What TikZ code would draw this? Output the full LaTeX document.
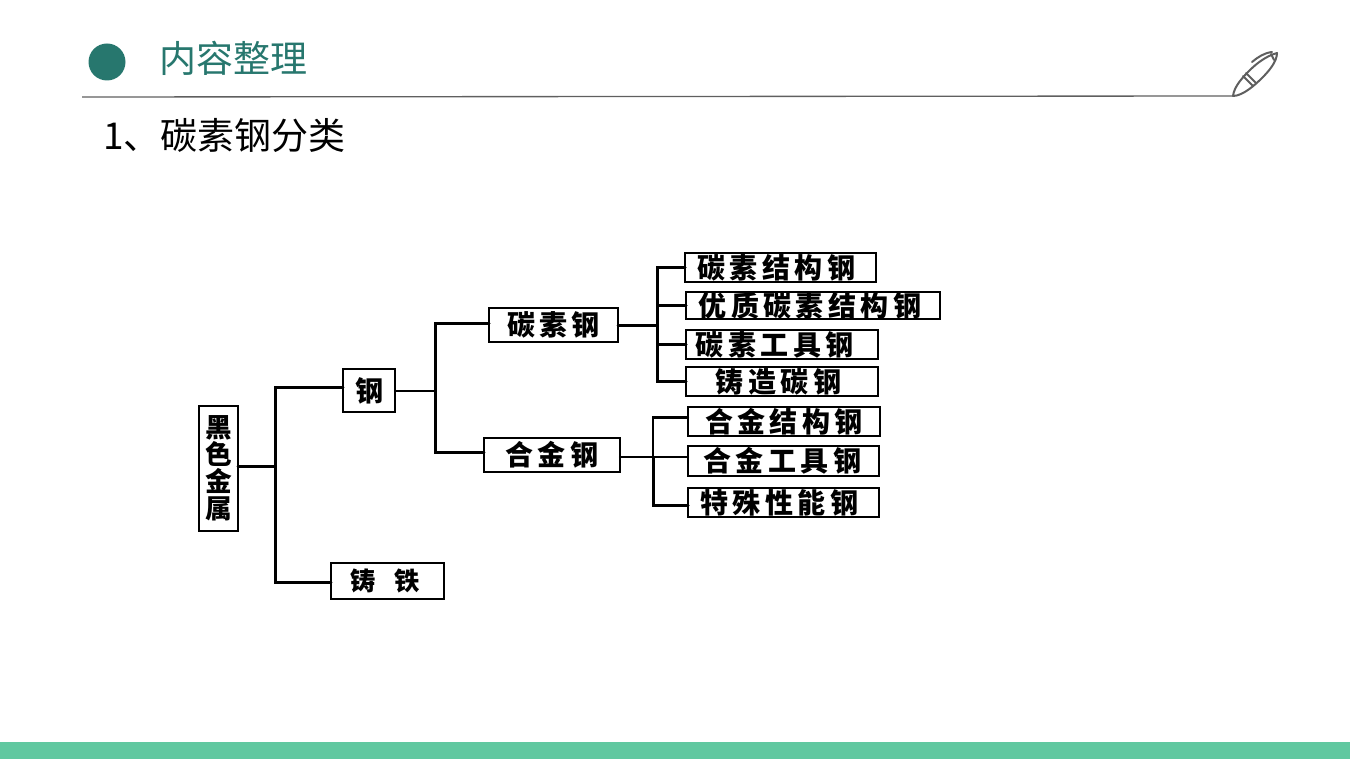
\documentclass[tikz,border=0pt]{standalone}
\usepackage{fontspec}
\setmainfont{Noto Sans CJK SC}
\newfontfamily\boxfont[LetterSpace=16]{Noto Sans CJK SC}
\usetikzlibrary{calc}
\definecolor{teal_dark}{RGB}{39,119,110}
\definecolor{teal_bar}{RGB}{96,200,160}
\definecolor{pen_gray}{RGB}{95,95,95}
\tikzset{
 box/.style 2 args={draw=black,line width=2.2pt,inner sep=0pt,outer sep=0pt,fill=white,
  minimum width=#1*.75pt,minimum height=#2*.75pt,align=center,
  font=\fontsize{21}{21}\boxfont\bfseries},
 conn/.style={line width=2.25pt,line cap=round,line join=miter},
 connthin/.style={line width=1.7pt,line cap=round},
 heading/.style={inner sep=0pt,outer sep=0pt,anchor=base west,font=\fontsize{27.75}{30}\selectfont},
 penline/.style={draw=pen_gray,line width=1.5pt,line cap=round,line join=round}
}
\begin{document}
\begin{tikzpicture}[x=.75pt,y=-.75pt]
 \useasboundingbox (0,0) rectangle (1350,759);
 \fill[teal_bar] (0,742) rectangle (1350,759);
 \fill[teal_dark] (107,62) circle (18.5);
 \node[heading,text=teal_dark] (title) at (159.5,73) {内容整理};
 \node[heading] (subtitle) at (103,150) {1、碳素钢分类};
 \coordinate (rule_start) at (82,97);
 \coordinate (pen_tip) at (1233,96);
 \draw[draw=pen_gray,line width=1pt] (rule_start) -- (pen_tip);
 \draw[penline] (pen_tip) .. controls (1234,86) and (1244,76) .. (1250,70)
  .. controls (1256,64) and (1266,56) .. (1277,53)
  .. controls (1277,62) and (1268,72) .. (1262,78)
  .. controls (1256,84) and (1243,96) .. (pen_tip);
 \draw[penline] (1243,76) -- (1253,86);
 \draw[penline] (1246,73) -- (1256,83);
 \draw[penline] (1252,62) .. controls (1258,57) and (1264,53) .. (1272,52);
 \draw[penline] (1271,54) -- (1274,60);

 \node[box={39}{125},font=\fontsize{20}{20.25}\boxfont\bfseries] (metal) at (218.5,468.5) {黑\\色\\金\\属};
 \node[box={52}{43}] (steel) at (369,390.5) {钢};
 \node[box={113}{36},font=\fontsize{19}{19}\boxfont\bfseries] (iron) at (387.5,581) {铸\hspace{14pt}铁\kern4pt};
 \node[box={129}{34}] (carbon) at (553.5,325) {碳素钢};
 \node[box={136}{34}] (alloy) at (552,455) {合金钢};
 \node[box={191}{29}] (c1) at (780.5,267.5) {碳素结构钢\kern6pt};
 \node[box={254}{27}] (c2) at (813,305.5) {优质碳素结构钢\kern4.5pt};
 \node[box={192}{29}] (c3) at (782,344.5) {碳素工具钢\kern11pt};
 \node[box={192}{29}] (c4) at (782,381.5) {铸造碳钢\kern5pt};
 \node[box={192}{29}] (a1) at (784,421.5) {合金结构钢};
 \node[box={191}{30}] (a2) at (783.5,461) {合金工具钢\kern2pt};
 \node[box={191}{29}] (a3) at (783.5,502.5) {特殊性能钢\kern6pt};

 \coordinate (trunk_metal) at (275,466);
 \coordinate (trunk_steel) at (435,391);
 \coordinate (trunk_carbon) at (657,326);
 \coordinate (trunk_alloy) at (653,457);

 \draw[conn] (metal.east |- trunk_metal) -- (trunk_metal);
 \draw[conn] (trunk_metal) |- ([yshift=1.9pt]steel.west);
 \draw[conn] (trunk_metal) |- ([yshift=-.75pt]iron.west);
 \draw[connthin] (steel.east |- trunk_steel) -- (trunk_steel);
 \draw[conn] (trunk_steel) |- ([yshift=.75pt]carbon.west);
 \draw[conn] (trunk_steel) |- ([yshift=2.2pt]alloy.west);
 \draw[conn] (carbon.east |- trunk_carbon) -- (trunk_carbon);
 \draw[connthin] (alloy.east |- trunk_alloy) -- (trunk_alloy);
 \foreach \leaf in {c1,c2,c3,c4}
  \draw[conn] (trunk_carbon) |- (\leaf.west);
 \draw[connthin] (trunk_alloy) |- ([yshift=3pt]a1.west);
 \draw[connthin] (trunk_alloy) |- ([yshift=3pt]a2.west);
 \draw[conn] (trunk_alloy) |- ([yshift=-2.5pt]a3.west);
\end{tikzpicture}
\end{document}
